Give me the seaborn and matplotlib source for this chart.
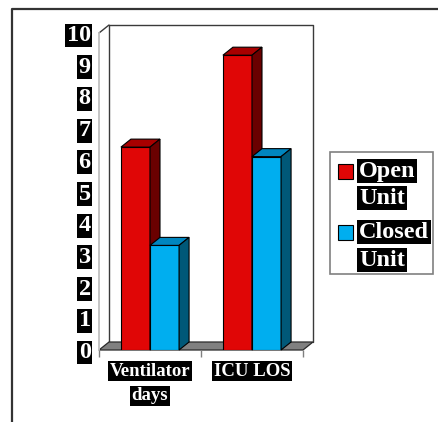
import numpy as np
import pandas as pd
import matplotlib
matplotlib.use("Agg")
import matplotlib.pyplot as plt
import matplotlib.transforms as mtransforms
from matplotlib.patches import Polygon, Rectangle
from matplotlib.lines import Line2D
import seaborn as sns

# ---- data ----
categories = ["Ventilator\ndays", "ICU LOS"]
series = ["Open\nUnit", "Closed\nUnit"]
open_unit = [6.4, 9.3]
closed_unit = [3.3, 6.1]
y_ticks = list(range(0, 11))

# ---- styling ----
front_colors = ["#E00606", "#00AEEF"]
top_colors = ["#A80000", "#0086BF"]
side_colors = ["#6A0000", "#005878"]

W, H = 439, 422          # figure size in pixels
DX, DY = 10, 8           # depth offset of the pseudo-3D box, pixels

sns.set_style("white")
plt.rcParams["font.family"] = ["Liberation Serif", "DejaVu Serif"]
plt.rcParams["font.weight"] = "bold"

df = pd.DataFrame({
    "category": categories * 2,
    "value": open_unit + closed_unit,
    "series": [series[0]] * len(categories) + [series[1]] * len(categories),
})

fig = plt.figure(figsize=(W / 100, H / 100), dpi=100)
ax = fig.add_axes([99 / W, 1 - 350 / H, 204 / W, 317 / H])
ax.patch.set_visible(False)

sns.barplot(data=df, x="category", y="value", hue="series",
            order=categories, hue_order=series, palette=front_colors,
            width=0.57, gap=0, saturation=1, edgecolor="black",
            linewidth=0.8, legend=False, err_kws={"linewidth": 0}, ax=ax)
ax.set_xlim(-0.5, len(categories) - 0.5)
ax.set_ylim(0, 10)

ident = mtransforms.IdentityTransform()

# ---- box: back wall and floor ----
(fx0, fy0), (fx1, fy1) = ax.transAxes.transform([(0, 0), (1, 1)])
wall = Rectangle((fx0 + DX, fy0 + DY), fx1 - fx0, fy1 - fy0, transform=ident,
                 facecolor="white", edgecolor="none", zorder=0.2, clip_on=False)
ax.add_artist(wall)
floor = Polygon([(fx0, fy0), (fx1, fy0), (fx1 + DX, fy0 + DY), (fx0 + DX, fy0 + DY)],
                closed=True, transform=ident, facecolor="#808080",
                edgecolor="#2a2a2a", linewidth=0.9, zorder=0.4, clip_on=False)
ax.add_artist(floor)
wall_edge = Line2D([fx0 + DX, fx0 + DX, fx1 + DX, fx1 + DX],
                   [fy0 + DY, fy1 + DY, fy1 + DY, fy0 + DY],
                   transform=ident, color="#3a3a3a", linewidth=1.0,
                   zorder=0.3, clip_on=False)
ax.add_artist(wall_edge)
ax.add_artist(Line2D([fx0, fx0 + DX], [fy1, fy1 + DY], transform=ident,
                     color="#3a3a3a", linewidth=1.0, zorder=0.3, clip_on=False))

# ---- depth faces of the bars ----
for j, cont in enumerate(ax.containers):
    for bar in cont:
        bar.set_zorder(2 + j)
        x0, x1 = bar.get_x(), bar.get_x() + bar.get_width()
        h = bar.get_height()
        (px0, py0), (px1, py1) = ax.transData.transform([(x0, 0), (x1, h)])
        top = Polygon([(px0, py1), (px1, py1), (px1 + DX, py1 + DY), (px0 + DX, py1 + DY)],
                      closed=True, transform=ident, facecolor=top_colors[j],
                      edgecolor="black", linewidth=0.8, zorder=2 + j + 0.1, clip_on=False)
        side = Polygon([(px1, py0), (px1, py1), (px1 + DX, py1 + DY), (px1 + DX, py0 + DY)],
                       closed=True, transform=ident, facecolor=side_colors[j],
                       edgecolor="black", linewidth=0.8, zorder=2 + j + 0.1, clip_on=False)
        ax.add_artist(top)
        ax.add_artist(side)

# ---- axes ----
for s in ["top", "right", "bottom"]:
    ax.spines[s].set_visible(False)
ax.spines["left"].set_color("#c0c0c0")
ax.spines["left"].set_linewidth(1.3)
ax.spines["left"].set_zorder(0.5)

ax.set_yticks(y_ticks)
ax.set_yticklabels([str(v) for v in y_ticks])
ax.tick_params(axis="y", length=0, pad=6, labelsize=17.5, labelcolor="white")
for lbl in ax.get_yticklabels():
    lbl.set_fontweight("bold")
    lbl.set_bbox(dict(facecolor="black", edgecolor="none", pad=1.0))

ax.set_xticks(range(len(categories)))
ax.set_xticklabels([""] * len(categories))
ax.set_xticks(np.arange(-0.5, len(categories), 1.0), minor=True)
ax.tick_params(axis="x", which="major", length=0)
ax.tick_params(axis="x", which="minor", length=5, width=1, color="#808080",
               direction="out", bottom=True)
ax.set_xlabel("")
ax.set_ylabel("")

# category labels, one black box per line
base = mtransforms.blended_transform_factory(ax.transData, ax.transAxes)
for i, cat in enumerate(categories):
    for k, line in enumerate(cat.split("\n")):
        tr = mtransforms.offset_copy(base, fig=fig, x=0, y=-21 - 25 * k, units="dots")
        ax.text(i, 0, line, transform=tr, ha="center", va="center",
                fontsize=13.5, fontweight="bold", color="white", clip_on=False,
                bbox=dict(facecolor="black", edgecolor="none", pad=1.2))

# ---- legend ----
fig.add_artist(Rectangle((330, H - 274), 103, 122, transform=ident,
                         facecolor="white", edgecolor="#808080", linewidth=1.2))
entry_y = [(171, 198), (232, 260)]
for j, name in enumerate(series):
    l1, l2 = entry_y[j]
    fig.add_artist(Rectangle((338, H - l1 - 8), 15, 15, transform=ident,
                             facecolor=front_colors[j], edgecolor="black", linewidth=0.8))
    for line, yy in zip(name.split("\n"), (l1, l2)):
        fig.text(359, H - yy, line, transform=ident, ha="left", va="center",
                 fontsize=17.5, fontweight="bold", color="white",
                 bbox=dict(facecolor="black", edgecolor="none", pad=1.2))

# ---- outer frame ----
fig.add_artist(Line2D([12, 12, W], [0, H - 9, H - 9], transform=ident,
                      color="#333333", linewidth=1.6))

fig.savefig("out.png", dpi=100)
